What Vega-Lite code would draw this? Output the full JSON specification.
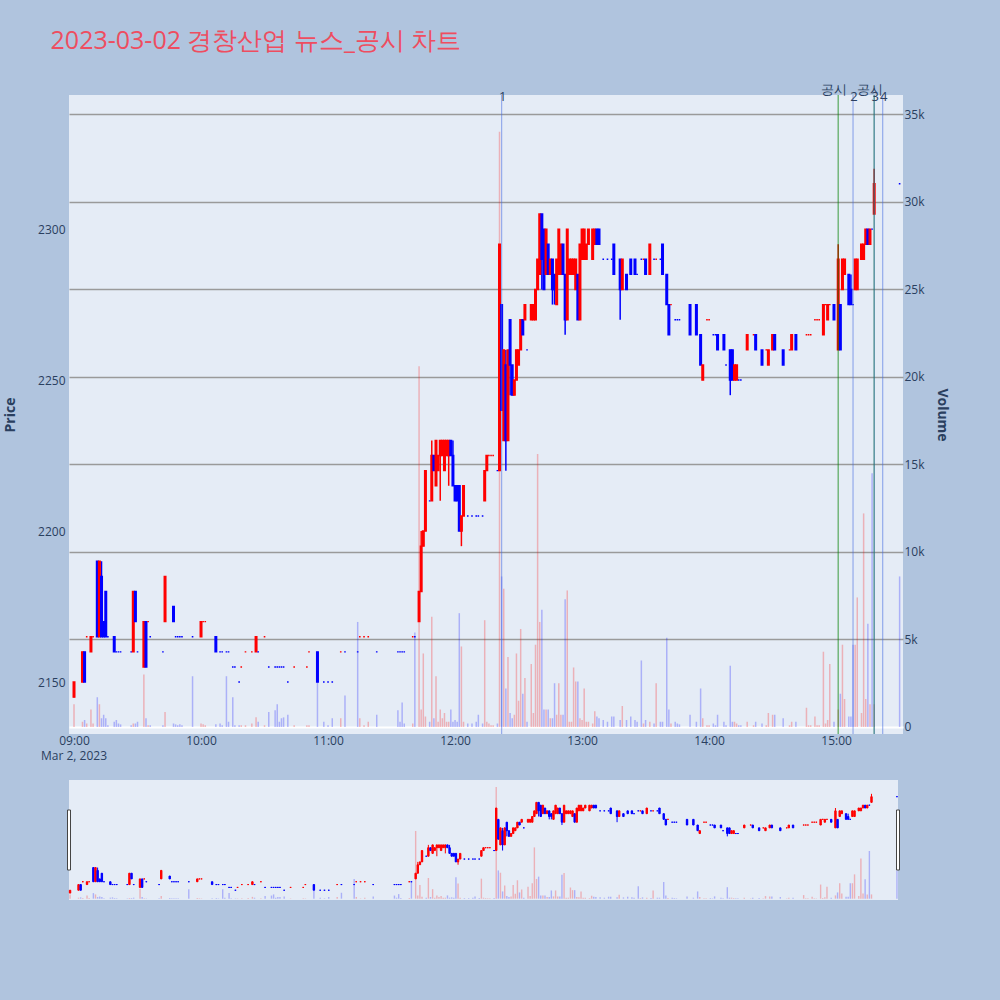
{
  "$schema": "https://vega.github.io/schema/vega-lite/v6.json",
  "background": "#b0c4de",
  "padding": {"left": 3, "top": 28, "right": 52, "bottom": 100},
  "title": {
    "text": "2023-03-02 경창산업 뉴스_공시 차트",
    "anchor": "start",
    "dx": 47,
    "offset": 30,
    "fontSize": 25,
    "fontWeight": "normal",
    "font": "Open Sans",
    "color": "#ee4d60"
  },
  "config": {
    "view": {"stroke": null, "fill": "#e5ecf6"},
    "font": "Open Sans",
    "axis": {
      "labelColor": "#2a3f5f",
      "titleColor": "#2a3f5f",
      "labelFontSize": 12,
      "titleFontSize": 14,
      "titleFontWeight": "bold",
      "domain": false,
      "ticks": false,
      "tickSize": 0
    }
  },
  "datasets": {
    "candles": [
      {"t":"2023-03-02T09:00","o":2145,"h":2150,"l":2145,"c":2150,"v":1300,"d":"up"},
      {"t":"2023-03-02T09:04","o":2150,"h":2160,"l":2150,"c":2160,"v":300,"d":"up"},
      {"t":"2023-03-02T09:05","o":2160,"h":2160,"l":2150,"c":2150,"v":400,"d":"down"},
      {"t":"2023-03-02T09:06","o":2165,"h":2165,"l":2165,"c":2165,"v":200,"d":"up"},
      {"t":"2023-03-02T09:08","o":2160,"h":2165,"l":2160,"c":2165,"v":1000,"d":"up"},
      {"t":"2023-03-02T09:09","o":2165,"h":2165,"l":2165,"c":2165,"v":200,"d":"up"},
      {"t":"2023-03-02T09:11","o":2190,"h":2190,"l":2165,"c":2165,"v":1700,"d":"down"},
      {"t":"2023-03-02T09:12","o":2165,"h":2190,"l":2165,"c":2190,"v":1300,"d":"up"},
      {"t":"2023-03-02T09:13","o":2185,"h":2190,"l":2165,"c":2165,"v":500,"d":"down"},
      {"t":"2023-03-02T09:14","o":2170,"h":2170,"l":2165,"c":2165,"v":700,"d":"down"},
      {"t":"2023-03-02T09:15","o":2180,"h":2180,"l":2165,"c":2165,"v":500,"d":"down"},
      {"t":"2023-03-02T09:16","o":2165,"h":2165,"l":2165,"c":2165,"v":100,"d":"down"},
      {"t":"2023-03-02T09:19","o":2165,"h":2165,"l":2160,"c":2160,"v":300,"d":"down"},
      {"t":"2023-03-02T09:20","o":2160,"h":2160,"l":2160,"c":2160,"v":400,"d":"down"},
      {"t":"2023-03-02T09:21","o":2160,"h":2160,"l":2160,"c":2160,"v":200,"d":"down"},
      {"t":"2023-03-02T09:22","o":2160,"h":2160,"l":2160,"c":2160,"v":150,"d":"down"},
      {"t":"2023-03-02T09:27","o":2160,"h":2160,"l":2160,"c":2160,"v":100,"d":"down"},
      {"t":"2023-03-02T09:28","o":2160,"h":2180,"l":2160,"c":2180,"v":200,"d":"up"},
      {"t":"2023-03-02T09:29","o":2180,"h":2180,"l":2170,"c":2170,"v":200,"d":"down"},
      {"t":"2023-03-02T09:30","o":2160,"h":2160,"l":2160,"c":2160,"v":300,"d":"down"},
      {"t":"2023-03-02T09:33","o":2155,"h":2170,"l":2155,"c":2170,"v":3000,"d":"up"},
      {"t":"2023-03-02T09:34","o":2170,"h":2170,"l":2155,"c":2155,"v":500,"d":"down"},
      {"t":"2023-03-02T09:35","o":2170,"h":2170,"l":2170,"c":2170,"v":100,"d":"up"},
      {"t":"2023-03-02T09:36","o":2165,"h":2165,"l":2165,"c":2165,"v":100,"d":"down"},
      {"t":"2023-03-02T09:42","o":2160,"h":2160,"l":2160,"c":2160,"v":100,"d":"down"},
      {"t":"2023-03-02T09:43","o":2170,"h":2185,"l":2170,"c":2185,"v":850,"d":"up"},
      {"t":"2023-03-02T09:47","o":2175,"h":2175,"l":2170,"c":2170,"v":200,"d":"down"},
      {"t":"2023-03-02T09:48","o":2165,"h":2165,"l":2165,"c":2165,"v":150,"d":"down"},
      {"t":"2023-03-02T09:49","o":2165,"h":2165,"l":2165,"c":2165,"v":100,"d":"down"},
      {"t":"2023-03-02T09:50","o":2165,"h":2165,"l":2165,"c":2165,"v":150,"d":"down"},
      {"t":"2023-03-02T09:51","o":2165,"h":2165,"l":2165,"c":2165,"v":100,"d":"down"},
      {"t":"2023-03-02T09:56","o":2165,"h":2165,"l":2165,"c":2165,"v":2900,"d":"down"},
      {"t":"2023-03-02T10:00","o":2165,"h":2170,"l":2165,"c":2170,"v":200,"d":"up"},
      {"t":"2023-03-02T10:01","o":2170,"h":2170,"l":2170,"c":2170,"v":150,"d":"up"},
      {"t":"2023-03-02T10:02","o":2170,"h":2170,"l":2170,"c":2170,"v":100,"d":"up"},
      {"t":"2023-03-02T10:07","o":2165,"h":2165,"l":2160,"c":2160,"v":150,"d":"down"},
      {"t":"2023-03-02T10:09","o":2160,"h":2160,"l":2160,"c":2160,"v":200,"d":"down"},
      {"t":"2023-03-02T10:10","o":2160,"h":2160,"l":2160,"c":2160,"v":100,"d":"down"},
      {"t":"2023-03-02T10:12","o":2160,"h":2160,"l":2160,"c":2160,"v":2900,"d":"down"},
      {"t":"2023-03-02T10:13","o":2160,"h":2160,"l":2160,"c":2160,"v":300,"d":"down"},
      {"t":"2023-03-02T10:15","o":2155,"h":2155,"l":2155,"c":2155,"v":1700,"d":"down"},
      {"t":"2023-03-02T10:16","o":2155,"h":2155,"l":2155,"c":2155,"v":100,"d":"down"},
      {"t":"2023-03-02T10:18","o":2150,"h":2150,"l":2150,"c":2150,"v":100,"d":"down"},
      {"t":"2023-03-02T10:19","o":2155,"h":2155,"l":2155,"c":2155,"v":100,"d":"up"},
      {"t":"2023-03-02T10:21","o":2160,"h":2160,"l":2160,"c":2160,"v":100,"d":"up"},
      {"t":"2023-03-02T10:24","o":2160,"h":2160,"l":2160,"c":2160,"v":200,"d":"up"},
      {"t":"2023-03-02T10:26","o":2160,"h":2165,"l":2160,"c":2165,"v":550,"d":"up"},
      {"t":"2023-03-02T10:27","o":2160,"h":2160,"l":2160,"c":2160,"v":300,"d":"down"},
      {"t":"2023-03-02T10:30","o":2165,"h":2165,"l":2165,"c":2165,"v":100,"d":"up"},
      {"t":"2023-03-02T10:32","o":2155,"h":2155,"l":2155,"c":2155,"v":850,"d":"down"},
      {"t":"2023-03-02T10:35","o":2155,"h":2155,"l":2155,"c":2155,"v":950,"d":"down"},
      {"t":"2023-03-02T10:36","o":2155,"h":2155,"l":2155,"c":2155,"v":1300,"d":"down"},
      {"t":"2023-03-02T10:37","o":2155,"h":2155,"l":2155,"c":2155,"v":300,"d":"down"},
      {"t":"2023-03-02T10:38","o":2155,"h":2155,"l":2155,"c":2155,"v":500,"d":"down"},
      {"t":"2023-03-02T10:39","o":2155,"h":2155,"l":2155,"c":2155,"v":550,"d":"down"},
      {"t":"2023-03-02T10:41","o":2150,"h":2150,"l":2150,"c":2150,"v":700,"d":"down"},
      {"t":"2023-03-02T10:44","o":2155,"h":2155,"l":2155,"c":2155,"v":100,"d":"up"},
      {"t":"2023-03-02T10:50","o":2155,"h":2155,"l":2155,"c":2155,"v":100,"d":"up"},
      {"t":"2023-03-02T10:51","o":2160,"h":2160,"l":2160,"c":2160,"v":100,"d":"up"},
      {"t":"2023-03-02T10:55","o":2160,"h":2160,"l":2150,"c":2150,"v":2600,"d":"down"},
      {"t":"2023-03-02T10:58","o":2150,"h":2150,"l":2150,"c":2150,"v":300,"d":"down"},
      {"t":"2023-03-02T11:00","o":2150,"h":2150,"l":2150,"c":2150,"v":100,"d":"down"},
      {"t":"2023-03-02T11:02","o":2150,"h":2150,"l":2150,"c":2150,"v":500,"d":"down"},
      {"t":"2023-03-02T11:06","o":2160,"h":2160,"l":2160,"c":2160,"v":500,"d":"up"},
      {"t":"2023-03-02T11:08","o":2160,"h":2160,"l":2160,"c":2160,"v":1800,"d":"down"},
      {"t":"2023-03-02T11:14","o":2160,"h":2160,"l":2160,"c":2160,"v":6000,"d":"down"},
      {"t":"2023-03-02T11:15","o":2165,"h":2165,"l":2165,"c":2165,"v":500,"d":"up"},
      {"t":"2023-03-02T11:17","o":2165,"h":2165,"l":2165,"c":2165,"v":100,"d":"up"},
      {"t":"2023-03-02T11:19","o":2165,"h":2165,"l":2165,"c":2165,"v":300,"d":"up"},
      {"t":"2023-03-02T11:23","o":2160,"h":2160,"l":2160,"c":2160,"v":700,"d":"down"},
      {"t":"2023-03-02T11:33","o":2160,"h":2160,"l":2160,"c":2160,"v":950,"d":"down"},
      {"t":"2023-03-02T11:34","o":2160,"h":2160,"l":2160,"c":2160,"v":300,"d":"down"},
      {"t":"2023-03-02T11:35","o":2160,"h":2160,"l":2160,"c":2160,"v":1400,"d":"down"},
      {"t":"2023-03-02T11:36","o":2160,"h":2160,"l":2160,"c":2160,"v":200,"d":"down"},
      {"t":"2023-03-02T11:40","o":2165,"h":2165,"l":2165,"c":2165,"v":200,"d":"up"},
      {"t":"2023-03-02T11:41","o":2165,"h":2165,"l":2165,"c":2165,"v":5400,"d":"down"},
      {"t":"2023-03-02T11:43","o":2170,"h":2180,"l":2170,"c":2180,"v":20600,"d":"up"},
      {"t":"2023-03-02T11:44","o":2180,"h":2200,"l":2180,"c":2195,"v":1000,"d":"up"},
      {"t":"2023-03-02T11:45","o":2195,"h":2200,"l":2195,"c":2200,"v":4200,"d":"up"},
      {"t":"2023-03-02T11:46","o":2200,"h":2220,"l":2200,"c":2220,"v":600,"d":"up"},
      {"t":"2023-03-02T11:48","o":2210,"h":2210,"l":2210,"c":2210,"v":300,"d":"down"},
      {"t":"2023-03-02T11:49","o":2210,"h":2230,"l":2210,"c":2225,"v":6300,"d":"up"},
      {"t":"2023-03-02T11:50","o":2225,"h":2225,"l":2220,"c":2220,"v":500,"d":"down"},
      {"t":"2023-03-02T11:51","o":2215,"h":2230,"l":2215,"c":2230,"v":2900,"d":"up"},
      {"t":"2023-03-02T11:52","o":2220,"h":2225,"l":2220,"c":2225,"v":300,"d":"up"},
      {"t":"2023-03-02T11:53","o":2225,"h":2230,"l":2210,"c":2230,"v":1000,"d":"up"},
      {"t":"2023-03-02T11:54","o":2225,"h":2230,"l":2225,"c":2230,"v":500,"d":"up"},
      {"t":"2023-03-02T11:55","o":2220,"h":2230,"l":2220,"c":2230,"v":800,"d":"up"},
      {"t":"2023-03-02T11:56","o":2225,"h":2230,"l":2225,"c":2230,"v":300,"d":"up"},
      {"t":"2023-03-02T11:57","o":2225,"h":2230,"l":2215,"c":2230,"v":300,"d":"up"},
      {"t":"2023-03-02T11:58","o":2230,"h":2230,"l":2225,"c":2225,"v":1000,"d":"down"},
      {"t":"2023-03-02T11:59","o":2225,"h":2230,"l":2215,"c":2215,"v":300,"d":"down"},
      {"t":"2023-03-02T12:00","o":2215,"h":2215,"l":2210,"c":2210,"v":400,"d":"down"},
      {"t":"2023-03-02T12:01","o":2215,"h":2215,"l":2210,"c":2210,"v":300,"d":"down"},
      {"t":"2023-03-02T12:02","o":2215,"h":2215,"l":2200,"c":2200,"v":6500,"d":"down"},
      {"t":"2023-03-02T12:03","o":2200,"h":2205,"l":2195,"c":2205,"v":4600,"d":"up"},
      {"t":"2023-03-02T12:04","o":2205,"h":2215,"l":2205,"c":2215,"v":300,"d":"up"},
      {"t":"2023-03-02T12:06","o":2205,"h":2205,"l":2205,"c":2205,"v":200,"d":"down"},
      {"t":"2023-03-02T12:08","o":2205,"h":2205,"l":2205,"c":2205,"v":200,"d":"down"},
      {"t":"2023-03-02T12:10","o":2205,"h":2205,"l":2205,"c":2205,"v":300,"d":"down"},
      {"t":"2023-03-02T12:11","o":2205,"h":2205,"l":2205,"c":2205,"v":700,"d":"down"},
      {"t":"2023-03-02T12:13","o":2205,"h":2205,"l":2205,"c":2205,"v":200,"d":"down"},
      {"t":"2023-03-02T12:14","o":2210,"h":2220,"l":2210,"c":2220,"v":6100,"d":"up"},
      {"t":"2023-03-02T12:15","o":2220,"h":2225,"l":2220,"c":2225,"v":300,"d":"up"},
      {"t":"2023-03-02T12:16","o":2225,"h":2225,"l":2225,"c":2225,"v":200,"d":"up"},
      {"t":"2023-03-02T12:17","o":2225,"h":2225,"l":2225,"c":2225,"v":100,"d":"up"},
      {"t":"2023-03-02T12:18","o":2225,"h":2225,"l":2225,"c":2225,"v":100,"d":"up"},
      {"t":"2023-03-02T12:20","o":2220,"h":2220,"l":2220,"c":2220,"v":200,"d":"down"},
      {"t":"2023-03-02T12:21","o":2220,"h":2295,"l":2220,"c":2295,"v":34000,"d":"up"},
      {"t":"2023-03-02T12:22","o":2275,"h":2275,"l":2240,"c":2240,"v":8600,"d":"down"},
      {"t":"2023-03-02T12:23","o":2230,"h":2260,"l":2230,"c":2260,"v":7900,"d":"up"},
      {"t":"2023-03-02T12:24","o":2255,"h":2260,"l":2220,"c":2230,"v":2200,"d":"down"},
      {"t":"2023-03-02T12:25","o":2230,"h":2260,"l":2230,"c":2260,"v":4000,"d":"up"},
      {"t":"2023-03-02T12:26","o":2270,"h":2270,"l":2245,"c":2255,"v":800,"d":"down"},
      {"t":"2023-03-02T12:27","o":2255,"h":2255,"l":2245,"c":2245,"v":500,"d":"down"},
      {"t":"2023-03-02T12:28","o":2245,"h":2250,"l":2245,"c":2250,"v":700,"d":"up"},
      {"t":"2023-03-02T12:29","o":2250,"h":2260,"l":2250,"c":2260,"v":4200,"d":"up"},
      {"t":"2023-03-02T12:30","o":2255,"h":2260,"l":2255,"c":2260,"v":1500,"d":"up"},
      {"t":"2023-03-02T12:31","o":2260,"h":2270,"l":2260,"c":2270,"v":5600,"d":"up"},
      {"t":"2023-03-02T12:32","o":2270,"h":2270,"l":2265,"c":2265,"v":1900,"d":"down"},
      {"t":"2023-03-02T12:33","o":2270,"h":2275,"l":2270,"c":2275,"v":2800,"d":"up"},
      {"t":"2023-03-02T12:34","o":2260,"h":2260,"l":2260,"c":2260,"v":300,"d":"down"},
      {"t":"2023-03-02T12:36","o":2270,"h":2275,"l":2270,"c":2275,"v":3600,"d":"up"},
      {"t":"2023-03-02T12:37","o":2270,"h":2275,"l":2270,"c":2275,"v":800,"d":"up"},
      {"t":"2023-03-02T12:38","o":2270,"h":2280,"l":2270,"c":2280,"v":4700,"d":"up"},
      {"t":"2023-03-02T12:39","o":2280,"h":2290,"l":2280,"c":2290,"v":15600,"d":"up"},
      {"t":"2023-03-02T12:40","o":2285,"h":2305,"l":2285,"c":2305,"v":6000,"d":"up"},
      {"t":"2023-03-02T12:41","o":2305,"h":2305,"l":2280,"c":2290,"v":6700,"d":"down"},
      {"t":"2023-03-02T12:42","o":2300,"h":2300,"l":2280,"c":2280,"v":1000,"d":"down"},
      {"t":"2023-03-02T12:43","o":2285,"h":2300,"l":2285,"c":2300,"v":1000,"d":"up"},
      {"t":"2023-03-02T12:44","o":2295,"h":2295,"l":2285,"c":2285,"v":1000,"d":"down"},
      {"t":"2023-03-02T12:45","o":2285,"h":2290,"l":2285,"c":2290,"v":500,"d":"up"},
      {"t":"2023-03-02T12:46","o":2290,"h":2290,"l":2275,"c":2280,"v":500,"d":"down"},
      {"t":"2023-03-02T12:47","o":2285,"h":2285,"l":2275,"c":2280,"v":2500,"d":"down"},
      {"t":"2023-03-02T12:48","o":2275,"h":2290,"l":2275,"c":2290,"v":700,"d":"up"},
      {"t":"2023-03-02T12:49","o":2285,"h":2300,"l":2285,"c":2300,"v":2500,"d":"up"},
      {"t":"2023-03-02T12:50","o":2285,"h":2295,"l":2285,"c":2295,"v":700,"d":"up"},
      {"t":"2023-03-02T12:51","o":2295,"h":2295,"l":2285,"c":2285,"v":700,"d":"down"},
      {"t":"2023-03-02T12:52","o":2285,"h":2285,"l":2265,"c":2270,"v":7300,"d":"down"},
      {"t":"2023-03-02T12:53","o":2270,"h":2300,"l":2270,"c":2300,"v":7800,"d":"up"},
      {"t":"2023-03-02T12:54","o":2285,"h":2290,"l":2285,"c":2290,"v":300,"d":"up"},
      {"t":"2023-03-02T12:55","o":2285,"h":2290,"l":2285,"c":2290,"v":300,"d":"up"},
      {"t":"2023-03-02T12:56","o":2285,"h":2290,"l":2285,"c":2290,"v":3400,"d":"up"},
      {"t":"2023-03-02T12:57","o":2280,"h":2290,"l":2280,"c":2290,"v":2600,"d":"up"},
      {"t":"2023-03-02T12:58","o":2285,"h":2285,"l":2270,"c":2270,"v":2600,"d":"down"},
      {"t":"2023-03-02T12:59","o":2270,"h":2295,"l":2270,"c":2295,"v":500,"d":"up"},
      {"t":"2023-03-02T13:00","o":2290,"h":2300,"l":2290,"c":2300,"v":400,"d":"up"},
      {"t":"2023-03-02T13:01","o":2290,"h":2300,"l":2290,"c":2300,"v":2200,"d":"up"},
      {"t":"2023-03-02T13:02","o":2290,"h":2295,"l":2290,"c":2295,"v":300,"d":"up"},
      {"t":"2023-03-02T13:03","o":2295,"h":2300,"l":2295,"c":2300,"v":300,"d":"up"},
      {"t":"2023-03-02T13:05","o":2290,"h":2300,"l":2290,"c":2300,"v":200,"d":"up"},
      {"t":"2023-03-02T13:06","o":2295,"h":2300,"l":2295,"c":2300,"v":900,"d":"up"},
      {"t":"2023-03-02T13:07","o":2300,"h":2300,"l":2295,"c":2295,"v":600,"d":"down"},
      {"t":"2023-03-02T13:08","o":2300,"h":2300,"l":2295,"c":2295,"v":500,"d":"down"},
      {"t":"2023-03-02T13:10","o":2290,"h":2290,"l":2290,"c":2290,"v":400,"d":"down"},
      {"t":"2023-03-02T13:12","o":2290,"h":2290,"l":2290,"c":2290,"v":300,"d":"down"},
      {"t":"2023-03-02T13:14","o":2290,"h":2290,"l":2290,"c":2290,"v":600,"d":"down"},
      {"t":"2023-03-02T13:15","o":2295,"h":2295,"l":2285,"c":2285,"v":600,"d":"down"},
      {"t":"2023-03-02T13:18","o":2290,"h":2290,"l":2270,"c":2280,"v":400,"d":"down"},
      {"t":"2023-03-02T13:19","o":2280,"h":2290,"l":2280,"c":2290,"v":1200,"d":"up"},
      {"t":"2023-03-02T13:21","o":2285,"h":2285,"l":2280,"c":2280,"v":400,"d":"down"},
      {"t":"2023-03-02T13:23","o":2290,"h":2290,"l":2285,"c":2285,"v":600,"d":"down"},
      {"t":"2023-03-02T13:25","o":2290,"h":2290,"l":2285,"c":2285,"v":400,"d":"down"},
      {"t":"2023-03-02T13:26","o":2285,"h":2285,"l":2285,"c":2285,"v":300,"d":"down"},
      {"t":"2023-03-02T13:28","o":2290,"h":2290,"l":2290,"c":2290,"v":3800,"d":"down"},
      {"t":"2023-03-02T13:29","o":2290,"h":2290,"l":2290,"c":2290,"v":200,"d":"up"},
      {"t":"2023-03-02T13:30","o":2290,"h":2290,"l":2285,"c":2285,"v":400,"d":"down"},
      {"t":"2023-03-02T13:32","o":2285,"h":2295,"l":2285,"c":2295,"v":300,"d":"up"},
      {"t":"2023-03-02T13:34","o":2290,"h":2290,"l":2290,"c":2290,"v":200,"d":"down"},
      {"t":"2023-03-02T13:35","o":2290,"h":2290,"l":2290,"c":2290,"v":2500,"d":"up"},
      {"t":"2023-03-02T13:37","o":2290,"h":2290,"l":2290,"c":2290,"v":300,"d":"down"},
      {"t":"2023-03-02T13:38","o":2295,"h":2295,"l":2285,"c":2285,"v":300,"d":"down"},
      {"t":"2023-03-02T13:40","o":2285,"h":2285,"l":2275,"c":2275,"v":5100,"d":"down"},
      {"t":"2023-03-02T13:41","o":2275,"h":2275,"l":2265,"c":2265,"v":1000,"d":"down"},
      {"t":"2023-03-02T13:42","o":2275,"h":2275,"l":2275,"c":2275,"v":200,"d":"up"},
      {"t":"2023-03-02T13:44","o":2270,"h":2270,"l":2270,"c":2270,"v":300,"d":"down"},
      {"t":"2023-03-02T13:45","o":2270,"h":2270,"l":2270,"c":2270,"v":200,"d":"down"},
      {"t":"2023-03-02T13:46","o":2270,"h":2270,"l":2270,"c":2270,"v":150,"d":"down"},
      {"t":"2023-03-02T13:51","o":2275,"h":2275,"l":2265,"c":2265,"v":700,"d":"down"},
      {"t":"2023-03-02T13:54","o":2275,"h":2275,"l":2265,"c":2265,"v":300,"d":"down"},
      {"t":"2023-03-02T13:56","o":2265,"h":2265,"l":2255,"c":2255,"v":2200,"d":"down"},
      {"t":"2023-03-02T13:57","o":2250,"h":2255,"l":2250,"c":2255,"v":500,"d":"up"},
      {"t":"2023-03-02T13:59","o":2270,"h":2270,"l":2270,"c":2270,"v":100,"d":"up"},
      {"t":"2023-03-02T14:00","o":2270,"h":2270,"l":2270,"c":2270,"v":100,"d":"up"},
      {"t":"2023-03-02T14:02","o":2265,"h":2265,"l":2265,"c":2265,"v":200,"d":"down"},
      {"t":"2023-03-02T14:03","o":2265,"h":2265,"l":2265,"c":2265,"v":100,"d":"down"},
      {"t":"2023-03-02T14:04","o":2265,"h":2265,"l":2260,"c":2260,"v":700,"d":"down"},
      {"t":"2023-03-02T14:07","o":2265,"h":2265,"l":2260,"c":2260,"v":300,"d":"down"},
      {"t":"2023-03-02T14:08","o":2255,"h":2255,"l":2255,"c":2255,"v":100,"d":"down"},
      {"t":"2023-03-02T14:10","o":2260,"h":2260,"l":2245,"c":2250,"v":3500,"d":"down"},
      {"t":"2023-03-02T14:11","o":2260,"h":2260,"l":2250,"c":2250,"v":300,"d":"down"},
      {"t":"2023-03-02T14:12","o":2250,"h":2255,"l":2250,"c":2255,"v":300,"d":"up"},
      {"t":"2023-03-02T14:13","o":2250,"h":2255,"l":2250,"c":2255,"v":200,"d":"up"},
      {"t":"2023-03-02T14:14","o":2250,"h":2250,"l":2250,"c":2250,"v":100,"d":"down"},
      {"t":"2023-03-02T14:15","o":2250,"h":2250,"l":2250,"c":2250,"v":100,"d":"down"},
      {"t":"2023-03-02T14:18","o":2260,"h":2265,"l":2260,"c":2265,"v":300,"d":"up"},
      {"t":"2023-03-02T14:21","o":2265,"h":2265,"l":2265,"c":2265,"v":100,"d":"up"},
      {"t":"2023-03-02T14:22","o":2265,"h":2265,"l":2260,"c":2260,"v":300,"d":"down"},
      {"t":"2023-03-02T14:25","o":2260,"h":2260,"l":2255,"c":2255,"v":200,"d":"down"},
      {"t":"2023-03-02T14:27","o":2260,"h":2260,"l":2260,"c":2260,"v":100,"d":"up"},
      {"t":"2023-03-02T14:28","o":2255,"h":2260,"l":2255,"c":2260,"v":800,"d":"up"},
      {"t":"2023-03-02T14:30","o":2260,"h":2265,"l":2260,"c":2265,"v":700,"d":"up"},
      {"t":"2023-03-02T14:31","o":2265,"h":2265,"l":2260,"c":2260,"v":700,"d":"down"},
      {"t":"2023-03-02T14:35","o":2260,"h":2260,"l":2255,"c":2255,"v":500,"d":"down"},
      {"t":"2023-03-02T14:38","o":2260,"h":2260,"l":2260,"c":2260,"v":100,"d":"up"},
      {"t":"2023-03-02T14:39","o":2260,"h":2265,"l":2260,"c":2265,"v":300,"d":"up"},
      {"t":"2023-03-02T14:41","o":2265,"h":2265,"l":2260,"c":2260,"v":300,"d":"down"},
      {"t":"2023-03-02T14:46","o":2265,"h":2265,"l":2265,"c":2265,"v":1100,"d":"up"},
      {"t":"2023-03-02T14:47","o":2265,"h":2265,"l":2265,"c":2265,"v":100,"d":"up"},
      {"t":"2023-03-02T14:48","o":2265,"h":2265,"l":2265,"c":2265,"v":100,"d":"up"},
      {"t":"2023-03-02T14:50","o":2270,"h":2270,"l":2270,"c":2270,"v":600,"d":"up"},
      {"t":"2023-03-02T14:51","o":2270,"h":2270,"l":2270,"c":2270,"v":100,"d":"up"},
      {"t":"2023-03-02T14:52","o":2270,"h":2270,"l":2270,"c":2270,"v":100,"d":"up"},
      {"t":"2023-03-02T14:54","o":2265,"h":2275,"l":2265,"c":2275,"v":4300,"d":"up"},
      {"t":"2023-03-02T14:55","o":2275,"h":2275,"l":2275,"c":2275,"v":200,"d":"up"},
      {"t":"2023-03-02T14:56","o":2270,"h":2275,"l":2270,"c":2275,"v":400,"d":"up"},
      {"t":"2023-03-02T14:57","o":2275,"h":2275,"l":2275,"c":2275,"v":3600,"d":"up"},
      {"t":"2023-03-02T14:59","o":2275,"h":2275,"l":2270,"c":2270,"v":300,"d":"down"},
      {"t":"2023-03-02T15:01","o":2260,"h":2295,"l":2260,"c":2290,"v":1000,"d":"up"},
      {"t":"2023-03-02T15:02","o":2275,"h":2275,"l":2260,"c":2260,"v":1900,"d":"down"},
      {"t":"2023-03-02T15:03","o":2280,"h":2290,"l":2280,"c":2290,"v":4700,"d":"up"},
      {"t":"2023-03-02T15:04","o":2285,"h":2290,"l":2285,"c":2290,"v":1600,"d":"up"},
      {"t":"2023-03-02T15:06","o":2285,"h":2285,"l":2275,"c":2275,"v":600,"d":"down"},
      {"t":"2023-03-02T15:07","o":2280,"h":2285,"l":2275,"c":2275,"v":600,"d":"down"},
      {"t":"2023-03-02T15:08","o":2275,"h":2275,"l":2275,"c":2275,"v":4700,"d":"down"},
      {"t":"2023-03-02T15:09","o":2280,"h":2290,"l":2280,"c":2290,"v":4700,"d":"up"},
      {"t":"2023-03-02T15:10","o":2280,"h":2290,"l":2280,"c":2290,"v":7400,"d":"up"},
      {"t":"2023-03-02T15:12","o":2290,"h":2295,"l":2290,"c":2295,"v":800,"d":"up"},
      {"t":"2023-03-02T15:13","o":2290,"h":2295,"l":2290,"c":2295,"v":12200,"d":"up"},
      {"t":"2023-03-02T15:14","o":2295,"h":2300,"l":2295,"c":2300,"v":1600,"d":"up"},
      {"t":"2023-03-02T15:15","o":2300,"h":2300,"l":2295,"c":2295,"v":5900,"d":"down"},
      {"t":"2023-03-02T15:16","o":2295,"h":2300,"l":2295,"c":2300,"v":1300,"d":"up"},
      {"t":"2023-03-02T15:17","o":2300,"h":2300,"l":2300,"c":2300,"v":14500,"d":"down"},
      {"t":"2023-03-02T15:18","o":2305,"h":2320,"l":2305,"c":2315,"v":1300,"d":"up"},
      {"t":"2023-03-02T15:30","o":2315,"h":2315,"l":2315,"c":2315,"v":8600,"d":"down"}
    ],
    "events": [
      {"t":"2023-03-02T12:22","label":"1","kind":"news"},
      {"t":"2023-03-02T15:01","label":"공시","kind":"disc"},
      {"t":"2023-03-02T15:08","label":"2","kind":"news"},
      {"t":"2023-03-02T15:18","label":"공시","kind":"disc"},
      {"t":"2023-03-02T15:18","label":"3","kind":"news"},
      {"t":"2023-03-02T15:22","label":"4","kind":"news"}
    ],
    "dates": [
      {"t":"2023-03-02T09:00","label":"Mar 2, 2023"}
    ],
    "range": [
      {"t":"2023-03-02T08:59:30","end":"start"},
      {"t":"2023-03-02T15:30:30","end":"end"}
    ]
  },
  "spacing": 18,
  "vconcat": [
    {
      "width": 834,
      "height": 639,
      "encoding": {
        "x": {
          "field": "t",
          "type": "temporal",
          "scale": {"domain": [{"year":2023,"month":3,"date":2,"hours":8,"minutes":57,"seconds":38},{"year":2023,"month":3,"date":2,"hours":15,"minutes":31,"seconds":36}], "nice": false, "padding": 0},
          "axis": {"title": null, "grid": false, "format": "%H:%M", "labelPadding": 1, "tickCount": 7, "labelFlush": false}
        }
      },
      "layer": [
        {
          "data": {"name": "candles"},
          "mark": {"type": "bar", "size": 1.5, "opacity": 0.25},
          "encoding": {
            "y": {
              "field": "v",
              "type": "quantitative",
              "scale": {"domain": [-400, 36100], "nice": false},
              "axis": {
                "orient": "right",
                "title": "Volume",
                "values": [0, 5000, 10000, 15000, 20000, 25000, 30000, 35000],
                "labelExpr": "datum.value == 0 ? '0' : (datum.value / 1000) + 'k'",
                "gridColor": {"condition": {"test": "datum.value == 0", "value": "white"}, "value": "#9a9a9a"},
                "gridWidth": {"condition": {"test": "datum.value == 0", "value": 2}, "value": 1.5},
                "labelPadding": 1,
                "titlePadding": 10
              }
            },
            "color": {"field": "d", "type": "nominal", "scale": {"domain": ["up", "down"], "range": ["#ff0000", "#0000ff"]}, "legend": null}
          }
        },
        {
          "layer": [
            {
              "data": {"name": "candles"},
              "mark": {"type": "rule", "strokeWidth": 1.5},
              "encoding": {
                "y": {
                  "field": "l",
                  "type": "quantitative",
                  "scale": {"domain": [2132.8, 2344.4], "nice": false, "zero": false},
                  "axis": {
                    "title": "Price",
                    "values": [2150, 2200, 2250, 2300],
                    "format": "d",
                    "gridColor": "white",
                    "gridWidth": 1,
                    "labelPadding": 4,
                    "titlePadding": 20
                  }
                },
                "y2": {"field": "h"},
                "color": {"field": "d", "type": "nominal", "legend": null}
              }
            },
            {
              "data": {"name": "candles"},
              "mark": {"type": "bar", "size": 1.6, "strokeWidth": 1.4},
              "encoding": {
                "y": {"field": "o", "type": "quantitative", "title": "Price"},
                "y2": {"field": "c"},
                "color": {"field": "d", "type": "nominal", "legend": null},
                "stroke": {"field": "d", "type": "nominal", "scale": {"domain": ["up", "down"], "range": ["#ff0000", "#0000ff"]}, "legend": null}
              }
            },
            {
              "data": {"name": "events"},
              "mark": {"type": "rule", "strokeOpacity": 0.5},
              "encoding": {
                "stroke": {"condition": {"test": "datum.kind == 'disc'", "value": "green"}, "value": "royalblue"},
                "strokeWidth": {"condition": {"test": "datum.kind == 'disc'", "value": 1.5}, "value": 1.2}
              }
            },
            {
              "data": {"name": "events"},
              "transform": [{"filter": "datum.kind == 'disc'"}],
              "mark": {"type": "text", "fontSize": 13, "dx": -4, "baseline": "middle", "color": "#2a3f5f"},
              "encoding": {
                "y": {"datum": 2346.2, "type": "quantitative"},
                "text": {"field": "label"}
              }
            },
            {
              "data": {"name": "events"},
              "transform": [{"filter": "datum.kind == 'news'"}],
              "mark": {"type": "text", "fontSize": 13, "dx": 1, "baseline": "middle", "color": "#2a3f5f"},
              "encoding": {
                "y": {"datum": 2343.7, "type": "quantitative"},
                "text": {"field": "label"}
              }
            },
            {
              "data": {"name": "dates"},
              "mark": {"type": "text", "fontSize": 12, "baseline": "middle", "color": "#2a3f5f"},
              "encoding": {
                "y": {"datum": 2125.6, "type": "quantitative"},
                "text": {"field": "label"}
              }
            }
          ]
        }
      ],
      "resolve": {"scale": {"y": "independent"}}
    },
    {
      "width": 829,
      "height": 120,
      "encoding": {
        "x": {
          "field": "t",
          "type": "temporal",
          "scale": {"domain": [{"year":2023,"month":3,"date":2,"hours":8,"minutes":59,"seconds":30},{"year":2023,"month":3,"date":2,"hours":15,"minutes":30,"seconds":30}], "nice": false, "padding": 0},
          "axis": null
        }
      },
      "layer": [
        {
          "data": {"name": "candles"},
          "mark": {"type": "bar", "size": 1.4, "opacity": 0.25},
          "encoding": {
            "y": {"field": "v", "type": "quantitative", "scale": {"domain": [-400, 36100], "nice": false}, "axis": null},
            "color": {"field": "d", "type": "nominal", "scale": {"domain": ["up", "down"], "range": ["#ff0000", "#0000ff"]}, "legend": null}
          }
        },
        {
          "layer": [
            {
              "data": {"name": "candles"},
              "mark": {"type": "rule", "strokeWidth": 1},
              "encoding": {
                "y": {"field": "l", "type": "quantitative", "scale": {"domain": [2132.8, 2344.4], "nice": false, "zero": false}, "axis": null},
                "y2": {"field": "h"},
                "color": {"field": "d", "type": "nominal", "legend": null}
              }
            },
            {
              "data": {"name": "candles"},
              "mark": {"type": "bar", "size": 1.4, "strokeWidth": 1},
              "encoding": {
                "y": {"field": "o", "type": "quantitative"},
                "y2": {"field": "c"},
                "color": {"field": "d", "type": "nominal", "legend": null},
                "stroke": {"field": "d", "type": "nominal", "scale": {"domain": ["up", "down"], "range": ["#ff0000", "#0000ff"]}, "legend": null}
              }
            }
          ]
        },
        {
          "data": {"name": "range"},
          "mark": {"type": "tick", "orient": "vertical", "size": 60, "thickness": 3, "color": "white", "stroke": "#444444", "strokeWidth": 1, "opacity": 1},
          "encoding": {}
        }
      ],
      "resolve": {"scale": {"y": "independent"}}
    }
  ]
}
